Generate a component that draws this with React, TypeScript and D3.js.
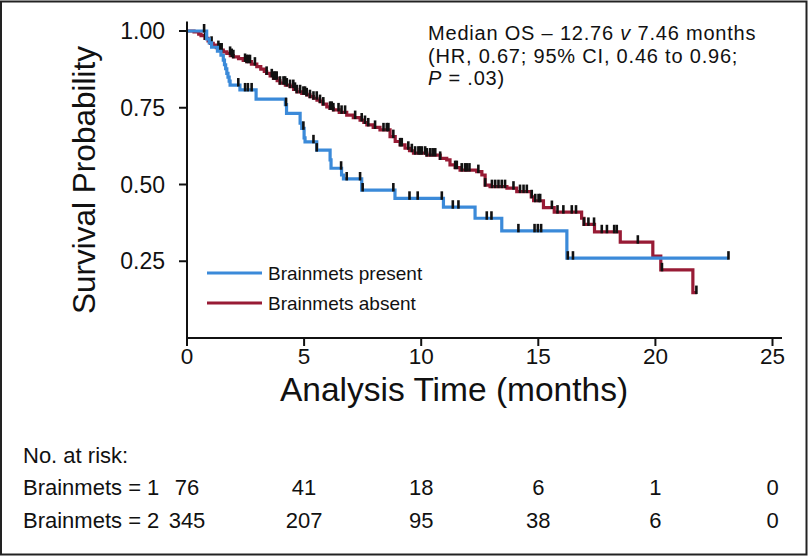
import React from 'react';
import * as d3 from 'd3';

// Kaplan-Meier steps (time in months, survival after the step)
const presentTimes = [0, 0.84, 0.95, 1.05, 1.3, 1.45, 1.55, 1.6, 1.65, 1.7, 1.75, 1.8, 1.84, 2.26, 2.95, 4.2, 4.25, 4.83, 4.9, 5.0, 5.04, 5.54, 6.11, 6.15, 6.6, 6.68, 7.46, 8.88, 10.95, 12.3, 13.44, 16.22];
const presentSurv = [1, 0.974, 0.961, 0.947, 0.934, 0.921, 0.905, 0.89, 0.877, 0.862, 0.85, 0.837, 0.824, 0.808, 0.778, 0.76, 0.732, 0.7, 0.683, 0.652, 0.639, 0.612, 0.58, 0.553, 0.531, 0.518, 0.482, 0.455, 0.426, 0.39, 0.349, 0.26];
const presentEnd = 23.12;
const presentCensor = [0.73, 2.19, 2.48, 2.6, 2.76, 4.23, 4.97, 5.4, 5.54, 6.58, 6.82, 7.39, 7.5, 8.81, 9.5, 9.85, 10.88, 11.35, 11.59, 12.8, 13.0, 14.15, 14.84, 14.98, 15.12, 16.26, 16.48, 23.12];

const absentTimes = [0, 0.3, 0.5, 0.6, 0.77, 0.9, 1.0, 1.12, 1.25, 1.41, 1.55, 1.7, 1.85, 1.98, 2.2, 2.4, 2.55, 2.75, 2.98, 3.15, 3.3, 3.4, 3.55, 3.69, 3.85, 3.97, 4.2, 4.4, 4.55, 4.69, 4.9, 5.11, 5.25, 5.4, 5.55, 5.68, 5.8, 5.97, 6.1, 6.25, 6.5, 6.82, 7.1, 7.39, 7.55, 7.68, 7.95, 8.24, 8.67, 8.89, 9.1, 9.31, 9.5, 9.67, 10.24, 10.81, 11.09, 11.23, 11.45, 11.66, 12.37, 12.59, 12.73, 12.94, 13.66, 14.08, 14.7, 14.8, 15.22, 15.68, 16.85, 16.95, 17.4, 18.5, 19.89, 20.23, 21.6];
const absentSurv = [1, 0.997, 0.99, 0.985, 0.976, 0.968, 0.96, 0.954, 0.946, 0.938, 0.932, 0.927, 0.92, 0.916, 0.91, 0.904, 0.9, 0.892, 0.884, 0.876, 0.868, 0.862, 0.854, 0.846, 0.838, 0.83, 0.824, 0.819, 0.81, 0.802, 0.797, 0.792, 0.786, 0.781, 0.775, 0.77, 0.762, 0.753, 0.748, 0.743, 0.735, 0.726, 0.718, 0.71, 0.702, 0.694, 0.686, 0.678, 0.656, 0.64, 0.629, 0.618, 0.61, 0.602, 0.596, 0.585, 0.58, 0.564, 0.555, 0.547, 0.542, 0.531, 0.498, 0.493, 0.488, 0.477, 0.46, 0.447, 0.425, 0.41, 0.39, 0.37, 0.346, 0.312, 0.267, 0.222, 0.148];
const absentEnd = 21.77;
const absentCensor = [0.77, 0.84, 1.05, 1.34, 1.41, 1.48, 1.84, 1.91, 1.98, 2.48, 2.55, 2.62, 2.69, 2.9, 3.4, 3.62, 3.69, 3.76, 3.83, 3.97, 4.12, 4.19, 4.26, 4.4, 4.54, 4.61, 4.69, 4.83, 4.97, 5.04, 5.11, 5.25, 5.4, 5.54, 5.68, 5.82, 6.11, 6.18, 6.25, 6.47, 6.6, 6.75, 7.18, 7.46, 7.6, 7.74, 8.03, 8.39, 8.53, 8.6, 8.81, 9.1, 9.17, 9.45, 9.6, 9.74, 9.88, 9.95, 10.03, 10.17, 10.24, 10.38, 10.49, 10.6, 10.81, 11.45, 11.52, 11.73, 11.87, 11.95, 12.06, 12.44, 12.73, 13.02, 13.16, 13.3, 13.44, 13.58, 13.94, 14.22, 14.37, 14.51, 14.72, 14.87, 15.01, 15.08, 15.58, 15.82, 16.07, 16.43, 16.61, 16.95, 17.14, 17.38, 17.71, 17.93, 18.24, 18.35, 19.25, 20.28, 21.75];

const xTicks = [0, 5, 10, 15, 20, 25];
const yTicks = [0.25, 0.5, 0.75, 1.0];
const riskRows = ['Brainmets = 1', 'Brainmets = 2'];
const riskPresent = [76, 41, 18, 6, 1, 0];
const riskAbsent = [345, 207, 95, 38, 6, 0];

const BLUE = '#3b8ad9';
const RED = '#981b35';
const FONT = '"Liberation Sans", Arial, sans-serif';

const W = 808;
const H = 556;

const x = d3.scaleLinear().domain([0, 25]).range([187, 772.5]);
const y = d3.scaleLinear().domain([0, 1]).range([338, 31]);

const stepLine = d3.line<[number, number]>()
    .x(d => x(d[0]))
    .y(d => y(d[1]))
    .curve(d3.curveStepAfter);

const toPoints = (times: number[], surv: number[], end: number): [number, number][] => {
    const pts = times.map((t, i) => [t, surv[i]] as [number, number]);
    pts.push([end, surv[surv.length - 1]]);
    return pts;
};

// survival level at time t for a step function
const levelAt = (times: number[], surv: number[], t: number) => {
    const i = d3.bisectRight(times, t) - 1;
    return surv[Math.max(0, i)];
};

const Curve = ({ times, surv, end, censor, color }: { times: number[]; surv: number[]; end: number; censor: number[]; color: string }) => (
    <g>
        <path d={stepLine(toPoints(times, surv, end)) || ''} fill="none" stroke={color} strokeWidth={3.2} strokeLinejoin="miter" />
        {censor.map((t, i) => {
            const cy = y(levelAt(times, surv, t));
            return <line key={i} x1={x(t)} x2={x(t)} y1={cy - 7} y2={cy + 1.5} stroke="#111" strokeWidth={2.6} />;
        })}
    </g>
);

const App = () => {
    const x0 = x.range()[0];
    return (
        <svg width={W} height={H} style={{ position: 'absolute', left: 0, top: 0, background: '#fff' }} fontFamily={FONT}>
            <rect x={1} y={1.5} width={W - 2.5} height={H - 3} fill="#fff" stroke="#222" strokeWidth={2} />

            {/* curves */}
            <Curve times={absentTimes} surv={absentSurv} end={absentEnd} censor={absentCensor} color={RED} />
            <Curve times={presentTimes} surv={presentSurv} end={presentEnd} censor={presentCensor} color={BLUE} />

            {/* y axis */}
            <line x1={x0} x2={x0} y1={21.5} y2={338} stroke="#111" strokeWidth={2} />
            {yTicks.map(v => (
                <g key={v}>
                    <line x1={x0 - 8} x2={x0} y1={y(v)} y2={y(v)} stroke="#111" strokeWidth={2} />
                    <text x={165} y={y(v) + 8} textAnchor="end" fontSize={23} fill="#111">{d3.format('.2f')(v)}</text>
                </g>
            ))}
            <text transform={`translate(95,180) rotate(-90)`} textAnchor="middle" fontSize={31.5} fill="#111">Survival Probability</text>

            {/* x axis */}
            <line x1={x0 - 1} x2={782} y1={338} y2={338} stroke="#111" strokeWidth={2} />
            {xTicks.map(v => (
                <g key={v}>
                    <line x1={x(v)} x2={x(v)} y1={338} y2={346} stroke="#111" strokeWidth={2} />
                    <text x={x(v)} y={364} textAnchor="middle" fontSize={22.5} fill="#111">{v}</text>
                </g>
            ))}
            <text x={454} y={401} textAnchor="middle" fontSize={33.5} fill="#111">Analysis Time (months)</text>

            {/* annotation */}
            <g fontSize={20} letterSpacing={0.8} fill="#111">
                <text x={428} y={40}>Median OS – 12.76 <tspan fontStyle="italic">v</tspan> 7.46 months</text>
                <text x={428} y={62.5}>(HR, 0.67; 95% CI, 0.46 to 0.96;</text>
                <text x={428} y={85}><tspan fontStyle="italic">P</tspan> = .03)</text>
            </g>

            {/* legend */}
            <line x1={207} x2={262} y1={273} y2={273} stroke={BLUE} strokeWidth={3.2} />
            <text x={268} y={280} fontSize={19} fill="#111">Brainmets present</text>
            <line x1={207} x2={262} y1={303} y2={303} stroke={RED} strokeWidth={3.2} />
            <text x={268} y={310} fontSize={19} fill="#111">Brainmets absent</text>

            {/* numbers at risk */}
            <g fontSize={22} fill="#111">
                <text x={23} y={463}>No. at risk:</text>
                <text x={23} y={495}>{riskRows[0]}</text>
                <text x={23} y={528}>{riskRows[1]}</text>
                {riskPresent.map((n, i) => (
                    <text key={'p' + i} x={x(xTicks[i])} y={495} textAnchor="middle">{n}</text>
                ))}
                {riskAbsent.map((n, i) => (
                    <text key={'a' + i} x={x(xTicks[i])} y={528} textAnchor="middle">{n}</text>
                ))}
            </g>
        </svg>
    );
};

export default App;
